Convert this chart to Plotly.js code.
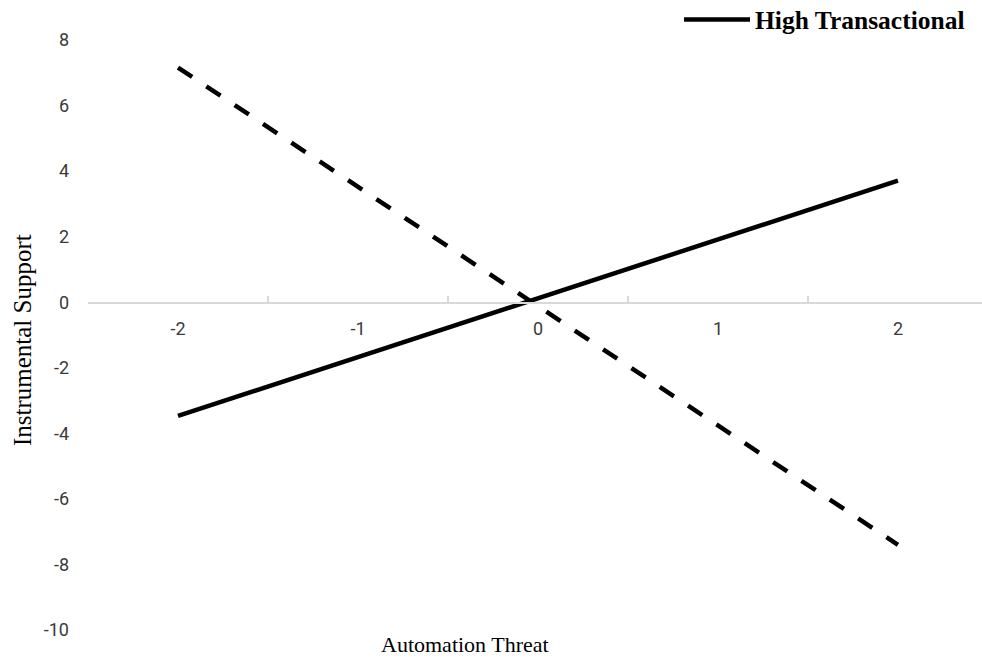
<!DOCTYPE html>
<html>
<head>
<meta charset="utf-8">
<script src="https://cdn.plot.ly/plotly-3.0.1.min.js"></script>
<style>html,body{margin:0;padding:0;background:#fff;}#chart{width:982px;height:658px;}</style>
</head>
<body>
<div id="chart"></div>
<script>
// Categories on the x axis (Automation Threat levels)
const categories = ['-2', '-1', '0', '1', '2'];
// Endpoints of each simple slope
const xPoints = ['-2', '2'];
const highTransactional = [-3.47, 3.71];
const lowTransactional = [7.16, -7.40];
// Y tick values
const yTicks = [-10, -8, -6, -4, -2, 0, 2, 4, 6, 8];

const traces = [
  {
    x: xPoints, y: lowTransactional, type: 'scatter', mode: 'lines',
    name: 'Low Transactional', showlegend: false,
    line: {color: '#000', width: 4.5, dash: '17px,17px'}
  },
  {
    x: xPoints, y: highTransactional, type: 'scatter', mode: 'lines',
    name: 'High Transactional',
    line: {color: '#000', width: 4.5}
  }
];

const tickFont = {family: 'Roboto', size: 18, color: '#3a3a3a'};

const layout = {
  width: 982, height: 658,
  margin: {l: 88, r: 0, t: 40, b: 28, autoexpand: false},
  paper_bgcolor: '#fff', plot_bgcolor: '#fff',
  showlegend: true,
  legend: {
    x: 0.9866, xanchor: 'right', y: 1.034, yanchor: 'middle',
    bgcolor: 'rgba(0,0,0,0)', borderwidth: 0,
    font: {family: 'Liberation Serif', size: 25.5, color: '#000', weight: 'bold'},
    itemwidth: 66
  },
  xaxis: {
    type: 'category', categoryorder: 'array', categoryarray: categories,
    range: [-0.5, 4.467],
    tickson: 'boundaries', ticks: 'inside', ticklen: 6, tickcolor: '#d9d9d9', tickwidth: 1.5,
    showline: true, linecolor: '#d9d9d9', linewidth: 1.5,
    showgrid: false, zeroline: false,
    anchor: 'free', position: 10 / 18,
    ticklabelstandoff: 10,
    tickfont: tickFont,
    fixedrange: true
  },
  yaxis: {
    range: [-10, 8], tickvals: yTicks, ticktext: yTicks.map(String),
    showline: false, showgrid: false, zeroline: false, ticks: '',
    ticklabelstandoff: 18,
    tickfont: tickFont,
    fixedrange: true
  },
  annotations: [
    {text: 'Automation Threat', xref: 'paper', yref: 'paper', x: 0.4217, y: -0.0254,
     xanchor: 'center', yanchor: 'middle', showarrow: false,
     font: {family: 'Liberation Serif', size: 22, color: '#000'}},
    {text: 'Instrumental Support', xref: 'paper', yref: 'paper', x: -0.0738, y: 0.4915,
     xanchor: 'center', yanchor: 'middle', showarrow: false, textangle: -90,
     font: {family: 'Liberation Serif', size: 25, color: '#000'}}
  ]
};

Plotly.newPlot('chart', traces, layout, {displayModeBar: false, staticPlot: true});
</script>
</body>
</html>
